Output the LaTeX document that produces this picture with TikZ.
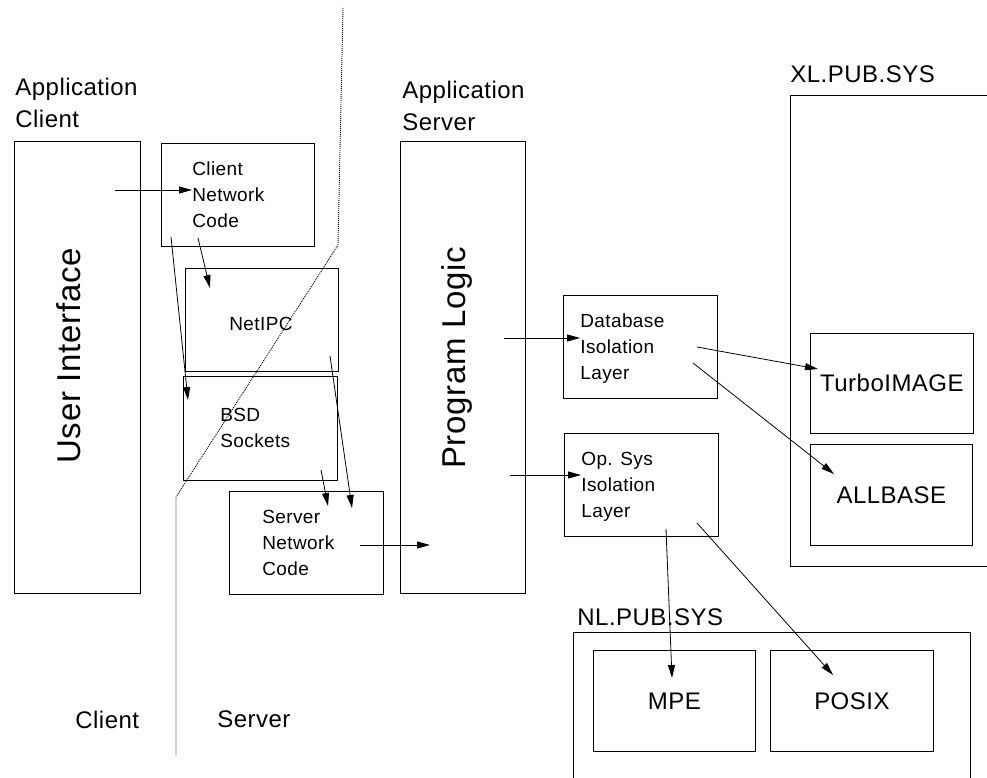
\documentclass[tikz,border=0pt]{standalone}
\usepackage{fontspec}
\setmainfont[LetterSpace=2]{Liberation Sans}
\usepackage{tikz}
\usetikzlibrary{arrows.meta}
\usetikzlibrary{positioning}

\begin{document}
\begin{tikzpicture}[x=1pt, y=-1pt, line width=0.8pt,
    box/.style={draw, anchor=north west, inner sep=0pt},
    >={Triangle[length=13pt, width=7pt]}]
    \tikzset{txt/.style={align=left, inner sep=0pt, font=\fontsize{19}{26}\selectfont}}
    \tikzset{head/.style={align=left, inner sep=0pt, font=\fontsize{24}{32}\selectfont}}
    \tikzset{big/.style={inner sep=0pt, rotate=90, font=\fontsize{33}{40}\selectfont}}
    \useasboundingbox (0,0) rectangle (987,778);
    \clip (0,0) rectangle (987,778);

    % client / server border
    \coordinate (cut1) at (343,8); \coordinate (cut2) at (338,245);
    \coordinate (cut3) at (176,497); \coordinate (cut4) at (176,755);
    \draw[dash pattern=on 1pt off 1pt, line width=0.9pt] (cut1) -- (cut2) -- (cut3) -- (cut4);

    \node[head, anchor=north west] (appc) at (15,78) {Application\\Client};
    \node[head, anchor=north west] (apps) at (402,81) {Application\\Server};
    \node[head, anchor=base west] (client) at (75,728) {Client};
    \node[head, anchor=base west] (server) at (217,727) {Server};

    % client side
    \node[box, minimum width=126, minimum height=452] (ui) at (14,141) {};
    \node[big] (ui-t) at (69,356) {User Interface};
    \node[box, minimum width=153, minimum height=103] (cnc) at (161,143) {};
    \node[txt, right=31pt of cnc.west] (cnc-t) {Client\\Network\\Code};
    \node[box, minimum width=153, minimum height=103] (ipc) at (185,268) {};
    \node[txt, right=44pt of ipc.west, yshift=-4pt] (ipc-t) {NetIPC};
    \node[box, minimum width=154, minimum height=104] (bsd) at (183,376) {};
    \node[txt, right=37pt of bsd.west] (bsd-t) {BSD\\Sockets};
    \node[box, minimum width=154, minimum height=103] (snc) at (229,491) {};
    \node[txt, right=33pt of snc.west] (snc-t) {Server\\Network\\Code};

    % server side
    \node[box, minimum width=125, minimum height=452] (prog) at (400,141) {};
    \node[big] (prog-t) at (457,358) {Program Logic};
    \node[box, minimum width=154, minimum height=103] (db) at (563,295) {};
    \node[txt, right=17pt of db.west, yshift=-2pt] (db-t) {Database\\Isolation\\Layer};
    \node[box, minimum width=154, minimum height=103] (os) at (564,433) {};
    \node[txt, right=17pt of os.west, yshift=-2pt] (os-t) {Op. Sys\\Isolation\\Layer};

    \node[box, minimum width=220, minimum height=471] (xl) at (790,95) {};
    \node[head, anchor=base west] (xl-t) at (790,83) {XL.PUB.SYS};
    \node[box, minimum width=163, minimum height=100, font=\fontsize{24}{30}\selectfont] (timage) at (810,333) {TurboIMAGE};
    \node[box, minimum width=162, minimum height=101, font=\fontsize{24}{30}\selectfont] (allbase) at (810,444) {ALLBASE};

    \node[box, minimum width=397, minimum height=200] (nl) at (573,632) {};
    \node[head, anchor=base west] (nl-t) at (577,625) {NL.PUB.SYS};
    \node[box, minimum width=162, minimum height=101, font=\fontsize{24}{30}\selectfont] (mpe) at (593,650) {\raisebox{-4pt}{MPE}};
    \node[box, minimum width=163, minimum height=101, font=\fontsize{24}{30}\selectfont] (posix) at (770,650) {POSIX};

    % calls
    \coordinate (ui-o) at (115,190);
    \draw[->] (ui-o) -- (ui-o -| cnc-t.west);
    \coordinate (cnc-o1) at (198,238); \coordinate (ipc-i) at (210,288);
    \draw[->] (cnc-o1) -- (ipc-i);
    \coordinate (cnc-o2) at (171,237); \coordinate (bsd-i) at (188,400);
    \draw[->] (cnc-o2) -- (bsd-i);
    \coordinate (ipc-o) at (330,356); \coordinate (snc-i1) at (352,508);
    \draw[->] (ipc-o) -- (snc-i1);
    \coordinate (bsd-o) at (321,470); \coordinate (snc-i2) at (328,506);
    \draw[->] (bsd-o) -- (snc-i2);
    \coordinate (snc-o) at (360,545); \coordinate (prog-i) at (430,545);
    \draw[->] (snc-o) -- (prog-i);
    \coordinate (prog-o1) at (504,338);
    \draw[->] (prog-o1) -- (prog-o1 -| db-t.west);
    \coordinate (prog-o2) at (510,475);
    \draw[->] (prog-o2) -- (prog-o2 -| os-t.west);
    \coordinate (db-o1) at (697,347); \coordinate (timage-i) at (818,369);
    \draw[->] (db-o1) -- (timage-i);
    \coordinate (db-o2) at (693,363); \coordinate (allbase-i) at (834,474);
    \draw[->] (db-o2) -- (allbase-i);
    \coordinate (os-o1) at (666,529); \coordinate (mpe-i) at (672,678);
    \draw[->] (os-o1) -- (mpe-i);
    \coordinate (os-o2) at (697,523); \coordinate (posix-i) at (833,675);
    \draw[->] (os-o2) -- (posix-i);
\end{tikzpicture}
\end{document}
